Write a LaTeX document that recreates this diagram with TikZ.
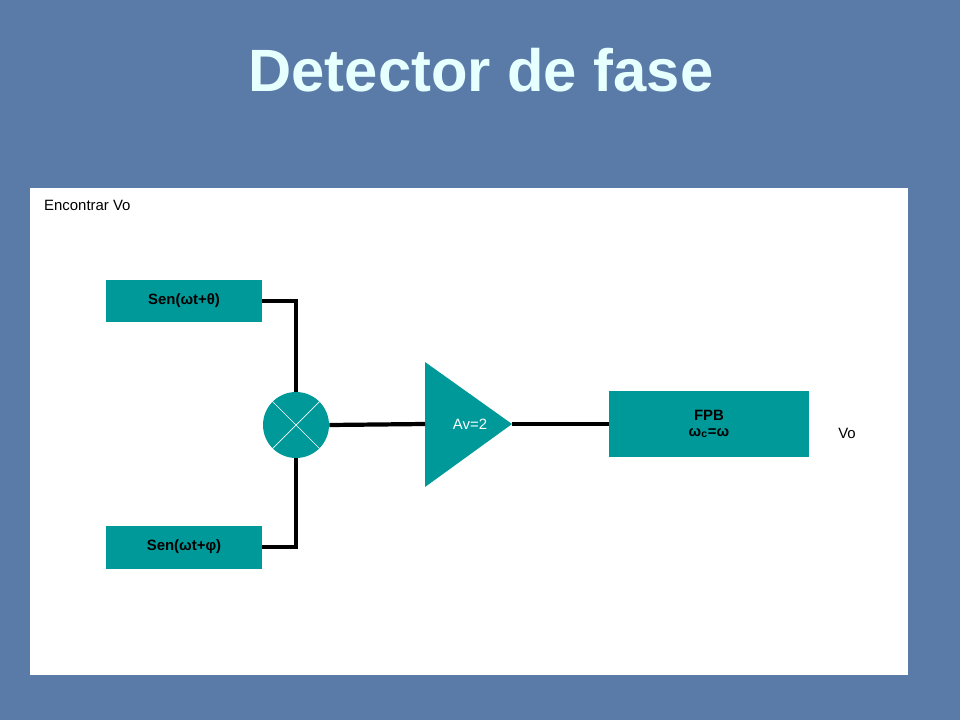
\documentclass[tikz,border=0pt]{standalone}
\usepackage{fontspec}
\setmainfont{Liberation Sans}
\usetikzlibrary{positioning}
\definecolor{slide}{HTML}{5A7BA8}
\definecolor{teal}{HTML}{009999}
\definecolor{titlecol}{HTML}{E6FFFF}
\tikzset{
  blk/.style={fill=teal,text=black,font=\bfseries\fontsize{8.5}{10}\selectfont,inner sep=0pt},
  wire/.style={draw=black,line width=2.4pt}
}
\begin{document}
\begin{tikzpicture}[x=0.02cm,y=-0.02cm]
		\fill[slide] (0,0) rectangle (960,720);
		\fill[white] (30,188) rectangle (908,675);
		\node[font=\bfseries\fontsize{34}{40}\selectfont,text=titlecol] (title) at (481,70) {Detector de fase};
		\node[anchor=west,font=\fontsize{8.5}{10}\selectfont] (task) at (38,205) {Encontrar Vo};

		\begin{scope}[every node/.style={blk}]
		    \node[minimum width=3.12cm,minimum height=0.84cm] (sinA) at (184,301) {Sen(ωt+θ)};
		    \node[minimum width=3.12cm,minimum height=0.86cm] (sinB) at (184,547) {Sen(ωt+φ)};
		    \node[minimum width=4cm,minimum height=1.32cm,align=center] (fpb) at (709,424) {FPB\\[-1pt]ω\textsubscript{c}=ω};
		\end{scope}
		\node[circle,fill=teal,minimum size=1.32cm,inner sep=0pt] (mix) at (296,425) {};
		\draw[white,thin] (mix.45) -- (mix.225) (mix.135) -- (mix.315);
		\fill[teal] (425,362) coordinate (tA) -- (425,487) coordinate (tB) -- (512,424) coordinate (tip) -- cycle;
		\coordinate (tin) at (425,424);
		\node[text=white,font=\fontsize{8.5}{10}\selectfont] (gain) at (470,424) {Av=2};
		\node[font=\fontsize{8.5}{10}\selectfont] (vo) at (847,433) {Vo};

		\draw[wire] (sinA.east) -| (mix.north);
		\draw[wire] (sinB.east) -| (mix.south);
		\draw[wire] (mix.east) -- (tin);
		\draw[wire] (tip) -- (fpb.west);
\end{tikzpicture}
\end{document}
